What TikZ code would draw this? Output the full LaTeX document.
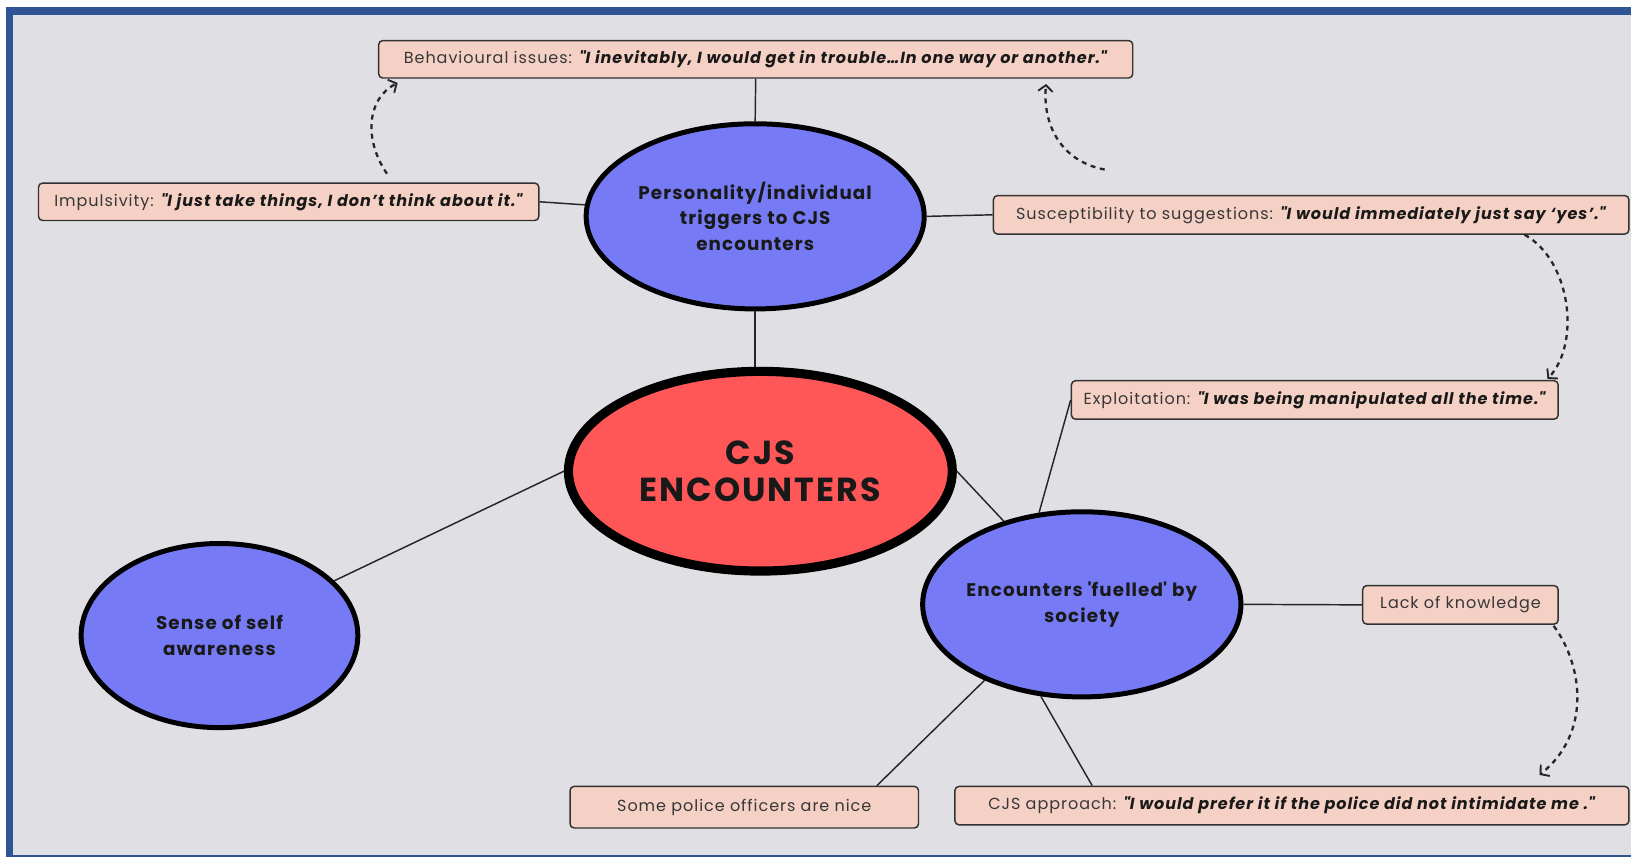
\documentclass[tikz,border=0pt]{standalone}
\usepackage{fontspec}
\setmainfont{Poppins}[LetterSpace=6]
\usetikzlibrary{shapes.geometric,arrows.meta,calc}

\definecolor{bgc}{RGB}{224,223,227}
\definecolor{frameblue}{RGB}{47,85,151}
\definecolor{boxfill}{RGB}{245,208,197}
\definecolor{boxline}{RGB}{50,50,50}
\definecolor{ellblue}{RGB}{118,123,245}
\definecolor{ellred}{RGB}{255,87,87}
\definecolor{txtgrey}{RGB}{55,55,55}

\newcommand{\qt}[1]{{\color{black!90}\textbf{\textit{#1}}}}
\newcommand{\dq}{\textquotedbl}

\begin{document}
\begin{tikzpicture}[x=0.5pt,y=-0.5pt,
  quotebox/.style={draw=boxline, fill=boxfill, rounded corners=2pt, line width=0.7pt,
    inner sep=0pt, text=txtgrey, font=\fontsize{7.7}{9}\selectfont},
  bubble/.style={ellipse, draw=black, fill=ellblue, line width=2.4pt, inner sep=0pt,
    align=center, text=black!90, font=\bfseries\fontsize{8.8}{12.3}\selectfont},
  link/.style={draw=black!85, line width=0.7pt},
  dasharrow/.style={draw=black!85, line width=1.1pt, dash pattern=on 2.4pt off 2.2pt,
    -{Straight Barb[length=3pt,width=7pt,line width=0.9pt]}}]

% frame and background
\fill[white] (0,0) rectangle (1568,824);
\fill[frameblue] (5.8,6.7) rectangle (1568,824);
\fill[bgc] (12.5,14.4) rectangle (1568,822);
\useasboundingbox (0,0) rectangle (1568,824);

% boxes
\node[quotebox, minimum width=362.5pt, minimum height=18pt] (beh) at (726.5,57)
  {Behavioural issues: \qt{\dq I inevitably, I would get in trouble…In one way or another.\dq}};
\node[quotebox, minimum width=240.5pt, minimum height=18pt] (imp) at (277.5,194)
  {Impulsivity: \qt{\dq I just take things, I don’t think about it.\dq}};
\node[quotebox, minimum width=305.5pt, minimum height=18.5pt] (sus) at (1260.5,206.5)
  {Susceptibility to suggestions: \qt{\dq I would immediately just say ‘yes’.\dq}};
\node[quotebox, minimum width=234pt, minimum height=18.5pt] (exp) at (1264,384.5)
  {Exploitation: \qt{\dq I was being manipulated all the time.\dq}};
\node[quotebox, minimum width=94pt, minimum height=18.5pt] (lack) at (1404,581.5)
  {Lack of knowledge};
\node[quotebox, minimum width=167.5pt, minimum height=20pt] (police) at (715.5,776)
  {Some police officers are nice};
\node[quotebox, minimum width=324pt, minimum height=18.5pt] (cjsa) at (1242,774.5)
  {CJS approach: \qt{\dq I would prefer it if the police did not intimidate me .\dq}};

% ellipses
\node[bubble, minimum width=162.5pt, minimum height=89pt] (pers) at (726,208)
  {Personality/individual\\triggers to CJS\\encounters};
\node[bubble, fill=ellred, line width=4.4pt, minimum width=184.5pt, minimum height=96pt,
  font=\bfseries\fontsize{16}{17.5}\selectfont] (cjs) at (731,453)
  {CJS\\ENCOUNTERS};
\node[bubble, minimum width=133pt, minimum height=88.5pt] (self) at (211,611)
  {Sense of self\\awareness};
\node[bubble, inner xsep=-5pt, minimum width=153pt, minimum height=89pt] (fuel) at (1040,581)
  {Encounters \textquotesingle fuelled\textquotesingle\ by\\society};

% solid connectors
\draw[link] (beh.south) -- (pers.north);
\draw[link] (imp.east) -- (pers);
\draw[link] (pers.east) -- (sus.west);
\draw[link] (pers.south) -- (pers.south |- cjs.north);
\draw[link] (cjs.west) -- (self);
\draw[link] (cjs.east) -- (fuel);
\draw[link] (fuel.115) -- (exp.west);
\draw[link] (fuel.east) -- (lack.west);
\draw[link] (fuel.218) -- ($(police.north)+(127.5,0)$);
\draw[link] (fuel.246) -- ($(cjsa.north)+(-192,0)$);

% dashed curved arrows
\coordinate (a1) at (372,167);
\coordinate (a2) at (1062,163);
\coordinate (a4) at (1480,745);
\draw[dasharrow] (a1) .. controls (350,135) and (352,95) .. ($(beh.south west)+(19,4)$);
\draw[dasharrow] (a2) .. controls (1020,155) and (1002,120) .. ($(beh.south east)+(-84,5)$);
\draw[dasharrow] ($(sus.south east)+(-101,0)$) .. controls (1510,250) and (1520,330) .. ($(exp.north east)+(-11,-1)$);
\draw[dasharrow] ($(lack.south east)+(-5,1)$) .. controls (1522,640) and (1530,705) .. (a4);

\end{tikzpicture}
\end{document}
